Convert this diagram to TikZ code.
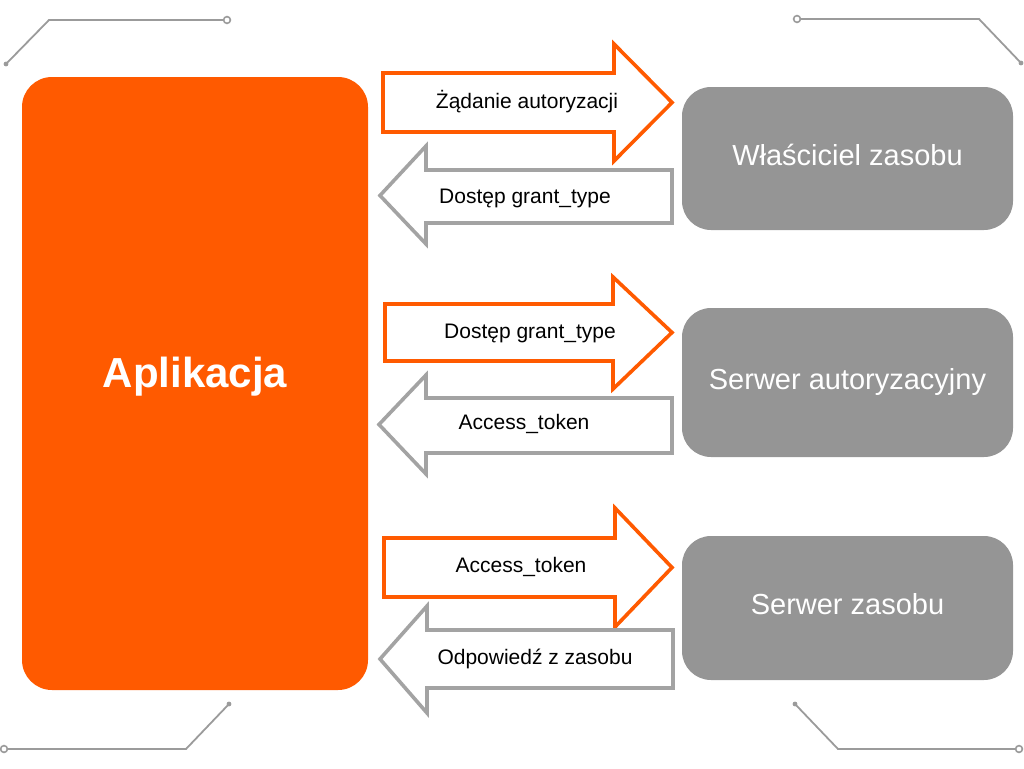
\documentclass[tikz,border=0pt]{standalone}
\usepackage{fontspec}
\setmainfont{Liberation Sans}
\usetikzlibrary{positioning}
\definecolor{appOrange}{HTML}{FF5A00}
\definecolor{boxGray}{HTML}{959595}
\definecolor{arrGray}{HTML}{A3A3A3}
\definecolor{decoGray}{HTML}{9B9B9B}
\tikzset{
  party/.style={rectangle, rounded corners=29pt, fill=boxGray, text=white, inner sep=0pt,
    minimum width=331pt, text height=21pt, text depth=8pt, font=\fontsize{29}{34}\selectfont},
  toright/.style={draw=appOrange, line width=3.6pt, fill=white},
  toleft/.style={draw=arrGray, line width=3.6pt, fill=white},
  msg/.style={inner sep=0pt, font=\fontsize{21}{25}\selectfont},
  deco/.style={draw=decoGray, line width=1.8pt},
  endring/.style={draw=decoGray, line width=1.6pt, fill=white},
}

\begin{document}
\begin{tikzpicture}[x=1pt, y=-1pt]
  \useasboundingbox (0,0) rectangle (1024,768);

  % corner ornaments
  \draw[deco] (6,64) -- (49,20) -- (224,20);
  \draw[deco] (800,19) -- (979,19) -- (1021,63);
  \draw[deco] (7,749) -- (186,749) -- (229,704);
  \draw[deco] (795,704) -- (838,749) -- (1016,749);
  \fill[decoGray] (6,64) circle (2.4) (1021,63) circle (2.4)
                  (229,704) circle (2.4) (795,704) circle (2.4);
  \draw[endring] (227,20) circle (3.4);
  \draw[endring] (797,19) circle (3.4);
  \draw[endring] (4,749) circle (3.4);
  \draw[endring] (1019,749) circle (3.4);

  % application and the three parties
  \node[rectangle, rounded corners=30pt, fill=appOrange, text=white, inner sep=0pt,
        minimum width=346pt, minimum height=613pt, text height=30pt, text depth=23pt,
        font=\bfseries\fontsize{42}{48}\selectfont] (app) at (195,383.5) {Aplikacja};
  \node[party, minimum height=143pt] (owner) at (847.5,158.5) {Właściciel zasobu};
  \node[party, minimum height=149pt] (authsrv) at (847.5,382.5) {Serwer autoryzacyjny};
  \node[party, minimum height=144pt] (ressrv) at (847.5,608) {Serwer zasobu};

  % requests (to the right)
  \draw[toright] (383,73) -- (614,73) -- (614,44) -- (672,102.5) -- (614,161) -- (614,132) -- (383,132) -- cycle;
  \draw[toright] (385,304) -- (613,304) -- (613,277) -- (672,332.5) -- (613,389) -- (613,361) -- (385,361) -- cycle;
  \draw[toright] (384,538) -- (615,538) -- (615,508) -- (672,567.5) -- (615,627) -- (615,597) -- (384,597) -- cycle;

  % answers (to the left)
  \draw[toleft] (672,170) -- (426,170) -- (426,146) -- (380,195.5) -- (426,244) -- (426,223) -- (672,223) -- cycle;
  \draw[toleft] (672,398) -- (426,398) -- (426,375) -- (379,424.5) -- (426,474) -- (426,453) -- (672,453) -- cycle;
  \draw[toleft] (673,630) -- (427,630) -- (427,606) -- (380,659) -- (427,713) -- (427,688) -- (673,688) -- cycle;

  \node[msg] (m1) at (527,102) {Żądanie autoryzacji};
  \node[msg] (m2) at (525,198) {Dostęp grant\_type};
  \node[msg] (m3) at (530,333) {Dostęp grant\_type};
  \node[msg] (m4) at (524,424) {Access\_token};
  \node[msg] (m5) at (521,567) {Access\_token};
  \node[msg] (m6) at (535,659) {Odpowiedź z zasobu};
\end{tikzpicture}
\end{document}
